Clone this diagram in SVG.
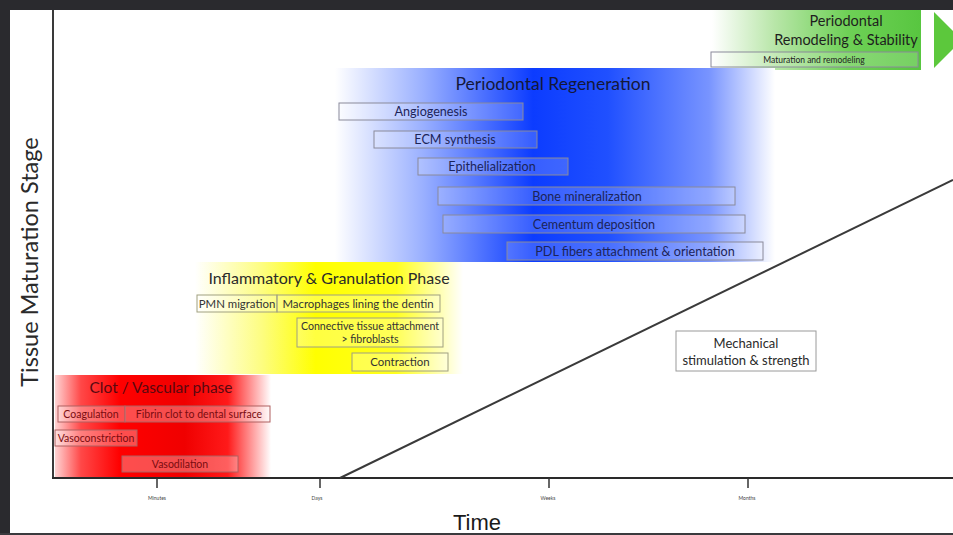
<svg xmlns="http://www.w3.org/2000/svg" width="953" height="535" viewBox="0 0 953 535">
<defs>
<linearGradient id="gRed" x1="0" y1="0" x2="1" y2="0">
<stop offset="0" stop-color="#ffd4d4"/>
<stop offset="0.12" stop-color="#ff4848"/>
<stop offset="0.3" stop-color="#ff0000"/>
<stop offset="0.6" stop-color="#f00000"/>
<stop offset="0.8" stop-color="#ff1a1a"/>
<stop offset="1" stop-color="#ffffff"/>
</linearGradient>
<linearGradient id="gYel" x1="0" y1="0" x2="1" y2="0">
<stop offset="0" stop-color="#ffffff"/>
<stop offset="0.25" stop-color="#fdfd80"/>
<stop offset="0.45" stop-color="#ffff00"/>
<stop offset="0.75" stop-color="#ffff20"/>
<stop offset="1" stop-color="#ffffff"/>
</linearGradient>
<linearGradient id="gBlue" x1="0" y1="0" x2="1" y2="0">
<stop offset="0" stop-color="#ffffff"/>
<stop offset="0.2" stop-color="#9ab0ff"/>
<stop offset="0.45" stop-color="#0c3cff"/>
<stop offset="0.62" stop-color="#2050ff"/>
<stop offset="0.85" stop-color="#7894ff"/>
<stop offset="1" stop-color="#ffffff"/>
</linearGradient>
<linearGradient id="gGreen" x1="0" y1="0" x2="1" y2="0">
<stop offset="0" stop-color="#ffffff"/>
<stop offset="0.3" stop-color="#b8e6a8"/>
<stop offset="0.65" stop-color="#6ed056"/>
<stop offset="1" stop-color="#58c640"/>
</linearGradient>
</defs>
<style>
text{font-family:Lato,"Open Sans","Liberation Sans",sans-serif;text-anchor:middle}
.box{fill:#ffffff;fill-opacity:0.18;stroke:#8a8a9a;stroke-width:1}
.rbox{fill:#ffffff;fill-opacity:0.3;stroke:#b06060;stroke-width:1}
.ybox{fill:#ffffff;fill-opacity:0.25;stroke:#a0a080;stroke-width:1}
.bt{font-size:12.6px;fill:#1c2458}
.yt{font-size:11.4px;fill:#333}
.rt{font-size:10.5px;fill:#7a0c10}
.tick{stroke:#333;stroke-width:1.5}
.tl{font-size:5px;fill:#444}
</style>
<rect x="0" y="0" width="953" height="535" fill="#ffffff"/>
<!-- frame -->
<rect x="0" y="0" width="953" height="10" fill="#2a2a2e"/>
<rect x="0" y="0" width="10" height="535" fill="#2a2a2e"/>
<rect x="0" y="533" width="953" height="2" fill="#3a3a3e"/>

<g id="phase-green">
<rect x="712" y="10" width="209" height="60" fill="url(#gGreen)"/>
<text x="846" y="26" style="font-size:14.5px;fill:#1e1e1e">Periodontal</text>
<text x="846" y="45" style="font-size:14.5px;fill:#1e1e1e">Remodeling &amp; Stability</text>
<g id="box-maturation">
<rect x="711" y="52" width="207" height="15" class="box"/>
<text x="814" y="63" style="font-size:8.5px;fill:#222">Maturation and remodeling</text>
</g>
<polygon id="arrow-green" points="934,12 962,40 934,68" fill="#5cc83c"/>
</g>

<g id="phase-blue">
<rect x="335" y="68" width="440" height="194" fill="url(#gBlue)"/>
<text x="553" y="90" style="font-size:17.5px;fill:#14183a">Periodontal Regeneration</text>
<g id="box-angiogenesis"><rect x="339" y="103" width="184" height="17" class="box"/><text x="431" y="116" class="bt">Angiogenesis</text></g>
<g id="box-ecm"><rect x="374" y="131" width="163" height="17" class="box"/><text x="455" y="144" class="bt">ECM synthesis</text></g>
<g id="box-epithelialization"><rect x="418" y="158" width="150" height="17" class="box"/><text x="492" y="171" class="bt">Epithelialization</text></g>
<g id="box-bone"><rect x="438" y="187" width="297" height="18" class="box"/><text x="587" y="200.5" class="bt">Bone mineralization</text></g>
<g id="box-cementum"><rect x="443" y="215" width="302" height="18" class="box"/><text x="594" y="228.5" class="bt">Cementum deposition</text></g>
<g id="box-pdl"><rect x="507" y="242" width="256" height="18" class="box"/><text x="635" y="255.5" class="bt">PDL fibers attachment &amp; orientation</text></g>
</g>

<g id="phase-yellow">
<rect x="195" y="262" width="268" height="112" fill="url(#gYel)"/>
<text x="329" y="284" style="font-size:16px;fill:#2a2a2a">Inflammatory &amp; Granulation Phase</text>
<g id="box-pmn"><rect x="197" y="295" width="80" height="17" class="ybox"/><text x="237" y="307.5" class="yt">PMN migration</text></g>
<g id="box-macrophages"><rect x="277" y="295" width="163" height="17" class="ybox"/><text x="358" y="307.5" class="yt">Macrophages lining the dentin</text></g>
<g id="box-connective"><rect x="297" y="318" width="146" height="29" class="ybox"/><text x="370" y="330" style="font-size:10.6px;fill:#333">Connective tissue attachment</text><text x="370" y="343" style="font-size:10.6px;fill:#333">&gt; fibroblasts</text></g>
<g id="box-contraction"><rect x="352" y="353" width="96" height="18" class="ybox"/><text x="400" y="366" class="yt">Contraction</text></g>
</g>

<g id="phase-red">
<rect x="55" y="375" width="216" height="102" fill="url(#gRed)"/>
<text x="161" y="393" style="font-size:15.5px;fill:#5a0810">Clot / Vascular phase</text>
<g id="box-coagulation"><rect x="58" y="406" width="67" height="16" class="rbox"/><text x="91" y="417.5" class="rt">Coagulation</text></g>
<g id="box-fibrin"><rect x="125" y="406" width="145" height="16" class="rbox"/><text x="199" y="417.5" class="rt">Fibrin clot to dental surface</text></g>
<g id="box-vasoconstriction"><rect x="55" y="430" width="82" height="16" class="rbox"/><text x="96" y="441.5" class="rt">Vasoconstriction</text></g>
<g id="box-vasodilation"><rect x="122" y="456" width="116" height="16" class="rbox"/><text x="180" y="467.5" class="rt">Vasodilation</text></g>
</g>

<g id="box-mechanical">
<rect x="676" y="331" width="140" height="40" fill="#ffffff" stroke="#9a9a9a" stroke-width="1"/>
<text x="746" y="348" style="font-size:13px;fill:#2a2a2a">Mechanical</text>
<text x="746" y="365" style="font-size:13px;fill:#2a2a2a">stimulation &amp; strength</text>
</g>

<g id="axes">
<line x1="53" y1="10" x2="53" y2="478" stroke="#3a3a3a" stroke-width="2"/>
<line x1="52" y1="478" x2="953" y2="478" stroke="#2a2a2a" stroke-width="2"/>
<line x1="157" y1="478" x2="157" y2="488" class="tick"/>
<line x1="320" y1="478" x2="320" y2="488" class="tick"/>
<line x1="549" y1="478" x2="549" y2="488" class="tick"/>
<line x1="748" y1="478" x2="748" y2="488" class="tick"/>
<text x="157" y="500" class="tl">Minutes</text>
<text x="317" y="500" class="tl">Days</text>
<text x="548" y="500" class="tl">Weeks</text>
<text x="747" y="500" class="tl">Months</text>
<text x="477" y="530" style="font-family:'Liberation Sans',Arial,sans-serif;font-size:22px;fill:#1a1a1a">Time</text>
<text x="0" y="0" transform="translate(38,262) rotate(-90)" style="font-size:23.5px;fill:#2a2a2a">Tissue Maturation Stage</text>
</g>

<g id="connectors">
<line x1="340" y1="478" x2="953" y2="180" stroke="#3a3a3a" stroke-width="2"/>
</g>
</svg>
